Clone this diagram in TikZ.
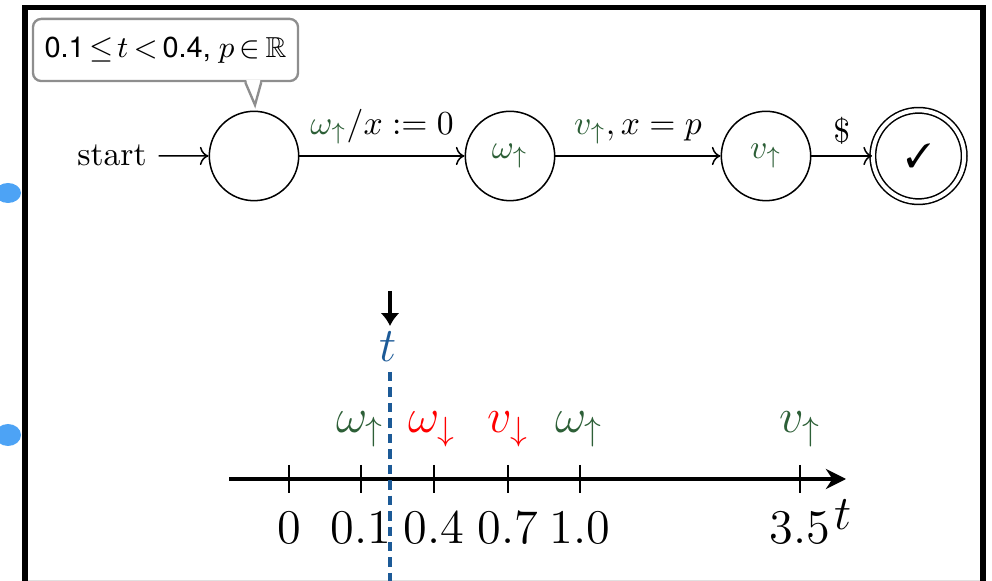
\documentclass[tikz,border=0pt]{standalone}
\usepackage{amssymb}
\usepackage{pifont}
\usepackage{fontspec}
\newfontfamily\heros{TeX Gyre Heros}
\usetikzlibrary{arrows.meta,calc}
\definecolor{dgreen}{HTML}{2D5F37}
\definecolor{tblue}{HTML}{1C5A97}
\definecolor{callgray}{HTML}{8E8E8E}
\definecolor{blobblue}{HTML}{4DA3F5}
\begin{document}
\begin{tikzpicture}[x=0.2976pt,y=-0.2976pt,
  stt/.style={circle,draw,line width=0.45pt,minimum size=26.6pt,inner sep=0pt},
  acc/.style={circle,draw,double,double distance=1.2pt,line width=0.45pt,minimum size=27.2pt,inner sep=0pt},
  edge/.style={->,line width=0.45pt},
  notebox/.style={draw=callgray,line width=0.7pt,rounded corners=2.5pt,fill=white,minimum width=78.9pt,minimum height=18.5pt,inner sep=0.5pt,font=\fontsize{8.6}{10}\heros},
  tick/.style={line width=0.5pt},
  axis/.style={line width=1pt,-{Stealth[length=6pt,width=6pt]}},
  ticklab/.style={font=\Large},
  evlab/.style={font=\Large,anchor=base}]
\useasboundingbox (0,0) rectangle (992,581);
\clip (0,0) rectangle (992,581);
% frame
\draw[line width=1.7pt] (25,600) -- (25,7.5) -- (983,7.5) -- (983,600);
\draw[black!12,line width=0.3pt] (28,580.5) -- (980,580.5);
% blobs
\fill[blobblue] (8,193) ellipse (13 and 10);
\fill[blobblue] (8,435) ellipse (13 and 11);
% automaton
\node[stt] (s0) at (254,156) {};
\node[stt] (s1) at (510,156) {$\color{dgreen}\omega_{\uparrow}$};
\node[stt] (s2) at (766,156) {$\color{dgreen}v_{\uparrow}$};
\node[acc] (s3) at (918.5,156) {\ding{51}};
\node[anchor=base] (start) at (112,166) {start};
\draw[edge] (start) -- (s0);
\draw[edge] (s0) -- node[above] {$\textcolor{dgreen}{\omega_{\uparrow}}/x := 0$} (s1);
\draw[edge] (s1) -- node[above] {$\textcolor{dgreen}{v_{\uparrow}}, x = p$} (s2);
\draw[edge] (s2) -- node[above] {\$} (s3);
% callout
\node[notebox] (note) at (165.5,50) {0.1\,$\leq\!t\,{<}$\,0.4, $p\,{\in}\,\mathbb{R}$};
\coordinate (tip) at (255,105);
\fill[white] ($(note.south west)+(214.5,-2)$) -- (tip) -- ($(note.south west)+(228.5,-2)$) -- cycle;
\draw[callgray,line width=0.7pt,line join=miter] ($(note.south west)+(213.5,0)$) -- (tip) -- ($(note.south west)+(229.5,0)$);
% timeline
\coordinate (ax0) at (229,479);
\coordinate (ax1) at (846,479);
\draw[axis] (ax0) -- (ax1);
\foreach \x/\lab in {289/0,361/0.1,434/0.4,508/0.7,580/1.0,800/3.5}{
  \draw[tick] (\x,465) -- (\x,493);
  \node[ticklab] at (\x,528) {$\lab$};
}
\node[font=\Large] (taxis) at (843,515) {$t$};
\node[evlab,text=dgreen] (e1) at (360,433) {$\omega_{\uparrow}$};
\node[evlab,text=red] (e2) at (432,433) {$\omega_{\downarrow}$};
\node[evlab,text=red] (e3) at (508,433) {$v_{\downarrow}$};
\node[evlab,text=dgreen] (e4) at (579,433) {$\omega_{\uparrow}$};
\node[evlab,text=dgreen] (e5) at (800,433) {$v_{\uparrow}$};
% current time marker
\draw[tblue,line width=1.1pt,dash pattern=on 2.8pt off 1.8pt] (390,372) -- (390,600);
\node[evlab,text=tblue] (tcur) at (388,362) {$t$};
\coordinate (arrtop) at (390,291);
\coordinate (arrbot) at (390,326);
\draw[line width=1.2pt,-{Latex[length=3.8pt,width=5.6pt]}] (arrtop) -- (arrbot);
\end{tikzpicture}
\end{document}
